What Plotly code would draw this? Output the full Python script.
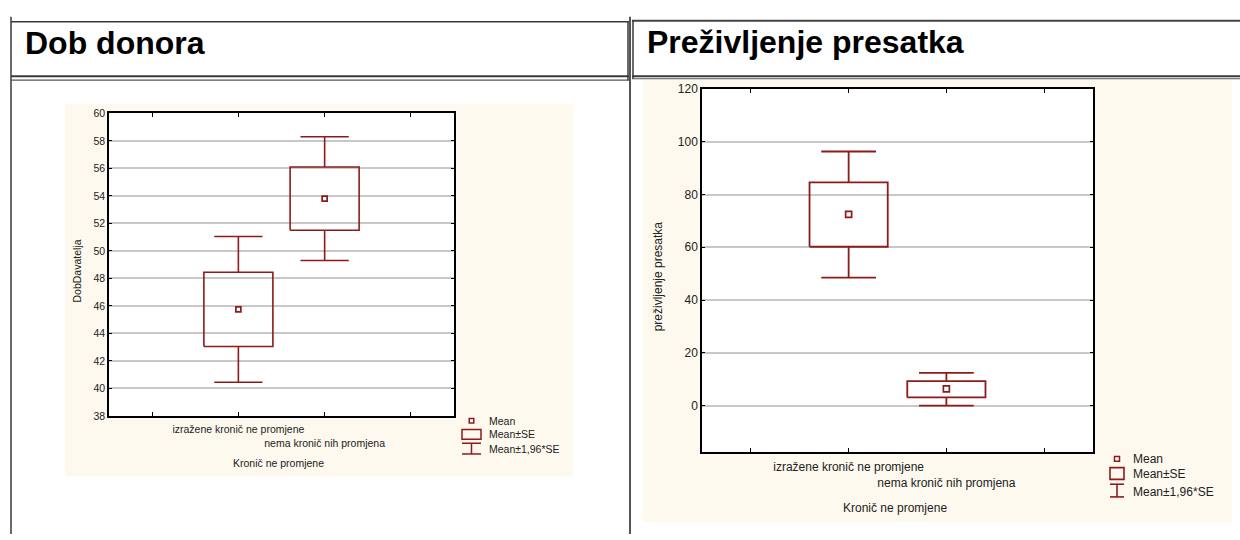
import plotly.graph_objects as go

W, H = 1240, 540

# ---------------- data ----------------
categories = ["izražene kronič ne promjene", "nema kronič nih promjena"]
x_title = "Kronič ne promjene"
panel_titles = ["Dob donora", "Preživljenje presatka"]
y_titles = ["DobDavatelja", "preživljenje presatka"]
legend_labels = ["Mean", "Mean±SE", "Mean±1,96*SE"]

# Dob donora (DobDavatelja)
dob_mean = [45.75, 53.8]
dob_se_lo = [43.05, 51.5]
dob_se_hi = [48.45, 56.1]
dob_ci_lo = [40.45, 49.3]
dob_ci_hi = [51.05, 58.3]
dob_ticks = [38, 40, 42, 44, 46, 48, 50, 52, 54, 56, 58, 60]

# Preživljenje presatka
prez_mean = [72.5, 6.3]
prez_se_lo = [60.2, 3.1]
prez_se_hi = [84.6, 9.3]
prez_ci_lo = [48.5, 0.0]
prez_ci_hi = [96.3, 12.4]
prez_ticks = [0, 20, 40, 60, 80, 100, 120]

# ---------------- style ----------------
RED = "#8E1B1B"
CREAM = "#FDF9EE"
GRID = "#C8C8C8"
FONT = "Arial, Liberation Sans, sans-serif"
BOX_HALF = 0.4
CAP_HALF = 0.28


def px(x):
    return x / W


def py(y):
    return 1 - y / H


def box_traces(mean, se_lo, se_hi, ci_lo, ci_hi, xa, ya, lw, msize):
    bx, by, wx, wy = [], [], [], []
    for i in range(len(mean)):
        c = i + 1
        bx += [c - BOX_HALF, c + BOX_HALF, c + BOX_HALF, c - BOX_HALF, c - BOX_HALF, None]
        by += [se_lo[i], se_lo[i], se_hi[i], se_hi[i], se_lo[i], None]
        wx += [c, c, None, c - CAP_HALF, c + CAP_HALF, None,
               c, c, None, c - CAP_HALF, c + CAP_HALF, None]
        wy += [se_hi[i], ci_hi[i], None, ci_hi[i], ci_hi[i], None,
               se_lo[i], ci_lo[i], None, ci_lo[i], ci_lo[i], None]
    xs = [i + 1 for i in range(len(mean))]
    return [
        go.Scatter(x=bx, y=by, mode="lines", line=dict(color=RED, width=lw),
                   xaxis=xa, yaxis=ya, showlegend=False, hoverinfo="skip"),
        go.Scatter(x=wx, y=wy, mode="lines", line=dict(color=RED, width=lw),
                   xaxis=xa, yaxis=ya, showlegend=False, hoverinfo="skip"),
        go.Scatter(x=xs, y=mean, mode="markers",
                   marker=dict(symbol="square", size=msize, color="white",
                               line=dict(color=RED, width=1.7)),
                   xaxis=xa, yaxis=ya, showlegend=False),
    ]


fig = go.Figure()
for t in box_traces(dob_mean, dob_se_lo, dob_se_hi, dob_ci_lo, dob_ci_hi, "x", "y", 1.6, 5):
    fig.add_trace(t)
for t in box_traces(prez_mean, prez_se_lo, prez_se_hi, prez_ci_lo, prez_ci_hi, "x2", "y2", 1.8, 6):
    fig.add_trace(t)

# plot areas (px)
L = dict(x0=109, x1=454, y0=109, y1=419)
R = dict(x0=702, x1=1093, y0=84, y1=456)

ticktext = [""] + [categories[0], "<br>" + categories[1]] + [""]


def xaxis(domain, fs, standoff):
    return dict(domain=domain, range=[-0.5, 3.5], tickvals=[0, 1, 2, 3], ticktext=ticktext,
                tickangle=0, showgrid=False, zeroline=False, showline=True, mirror="ticks",
                linecolor="black", linewidth=1.5, ticks="inside", ticklen=4,
                ticklabelstandoff=standoff,
                tickcolor="black", tickfont=dict(family=FONT, size=fs, color="#222"),
                fixedrange=True)


def yaxis(domain, rng, tv, fs):
    return dict(domain=domain, range=rng, tickvals=tv, showgrid=True, gridcolor=GRID,
                gridwidth=1.5, zeroline=False, showline=True, mirror="ticks",
                linecolor="black", linewidth=1.5, ticks="inside", ticklen=3,
                tickcolor="black", tickfont=dict(family=FONT, size=fs, color="#222"),
                fixedrange=True)


shapes = []
annotations = []

# cream panels and white plot areas
shapes.append(dict(type="rect", xref="paper", yref="paper", x0=px(65), x1=px(573),
                   y0=py(481), y1=py(99), fillcolor=CREAM, line=dict(width=0), layer="below"))
shapes.append(dict(type="rect", xref="paper", yref="paper", x0=px(643), x1=px(1232),
                   y0=py(528), y1=py(75), fillcolor=CREAM, line=dict(width=0), layer="below"))
for P in (L, R):
    shapes.append(dict(type="rect", xref="paper", yref="paper", x0=px(P["x0"]), x1=px(P["x1"]),
                       y0=py(P["y1"]), y1=py(P["y0"]), fillcolor="white",
                       line=dict(width=0), layer="below"))

# table borders
BC = "#3A3A3A"


def hline(x0, x1, y, w=1.5, c=BC):
    shapes.append(dict(type="line", xref="paper", yref="paper", x0=px(x0), x1=px(x1),
                       y0=py(y), y1=py(y), line=dict(color=c, width=w), layer="above"))


def vline(x, y0, y1, w=1.5, c=BC):
    shapes.append(dict(type="line", xref="paper", yref="paper", x0=px(x), x1=px(x),
                       y0=py(y0), y1=py(y1), line=dict(color=c, width=w), layer="above"))


vline(11, 10, 540)
vline(630, 10, 540, w=2, c="#555555")
# left header box
hline(11, 629, 15)
hline(11, 629, 71, w=2)
hline(11, 629, 75, w=1.2, c="#555555")
vline(628, 15, 75)
# right header box
hline(632, 1240, 14, w=2, c="#444444")
hline(632, 1240, 71, w=2)
hline(632, 1240, 73.5, w=1.2, c="#555555")
vline(633, 14, 73.5)

# header titles
annotations.append(dict(text="<b>" + panel_titles[0] + "</b>", xref="paper", yref="paper",
                        x=px(23), y=py(37), xanchor="left", yanchor="middle", showarrow=False,
                        font=dict(family=FONT, size=32, color="black")))
annotations.append(dict(text="<b>" + panel_titles[1] + "</b>", xref="paper", yref="paper",
                        x=px(645), y=py(36), xanchor="left", yanchor="middle", showarrow=False,
                        font=dict(family=FONT, size=32, color="black")))

# axis titles
annotations.append(dict(text=y_titles[0], xref="paper", yref="paper", x=px(77), y=py(271),
                        textangle=-90, showarrow=False, xanchor="center", yanchor="middle",
                        font=dict(family=FONT, size=10.5, color="#222")))
annotations.append(dict(text=y_titles[1], xref="paper", yref="paper", x=px(658), y=py(276),
                        textangle=-90, showarrow=False, xanchor="center", yanchor="middle",
                        font=dict(family=FONT, size=12, color="#222")))
annotations.append(dict(text=x_title, xref="paper", yref="paper", x=px(278), y=py(467),
                        showarrow=False, xanchor="center", yanchor="middle",
                        font=dict(family=FONT, size=10.5, color="#222")))
annotations.append(dict(text=x_title, xref="paper", yref="paper", x=px(895), y=py(513),
                        showarrow=False, xanchor="center", yanchor="middle",
                        font=dict(family=FONT, size=12, color="#222")))


# legends
def legend(cx, sym_x0, sym_x1, y_mean, box_y0, box_y1, cap_y0, cap_y1, tx, ty, fs, msz, lw):
    shapes.append(dict(type="rect", xref="paper", yref="paper",
                       x0=px(cx - msz / 2), x1=px(cx + msz / 2),
                       y0=py(y_mean + msz / 2), y1=py(y_mean - msz / 2),
                       fillcolor="white", line=dict(color=RED, width=1.5), layer="above"))
    shapes.append(dict(type="rect", xref="paper", yref="paper", x0=px(sym_x0), x1=px(sym_x1),
                       y0=py(box_y1), y1=py(box_y0), line=dict(color=RED, width=lw),
                       layer="above"))
    for yy in (cap_y0, cap_y1):
        shapes.append(dict(type="line", xref="paper", yref="paper", x0=px(sym_x0), x1=px(sym_x1),
                           y0=py(yy), y1=py(yy), line=dict(color=RED, width=lw), layer="above"))
    mid = (sym_x0 + sym_x1) / 2
    shapes.append(dict(type="line", xref="paper", yref="paper", x0=px(mid), x1=px(mid),
                       y0=py(cap_y0), y1=py(cap_y1), line=dict(color=RED, width=lw),
                       layer="above"))
    for lab, yy in zip(legend_labels, ty):
        annotations.append(dict(text=lab, xref="paper", yref="paper", x=px(tx), y=py(yy),
                                xanchor="left", yanchor="middle", showarrow=False,
                                font=dict(family=FONT, size=fs, color="#222")))


legend(471.5, 462, 481, 424, 433, 443, 447, 458, 487, [424, 438, 453], 10.5, 4.5, 1.5)
legend(1117, 1110, 1124, 463, 472, 484, 489, 502, 1131, [463, 479, 497], 12, 5, 1.6)

fig.update_layout(
    width=W, height=H, autosize=False,
    margin=dict(l=0, r=0, t=0, b=0),
    paper_bgcolor="white", plot_bgcolor="white",
    showlegend=False,
    xaxis=xaxis([px(L["x0"]), px(L["x1"])], 10.5, 3),
    yaxis=yaxis([py(L["y1"]), py(L["y0"])], [38, 60], dob_ticks, 10.5),
    xaxis2=xaxis([px(R["x0"]), px(R["x1"])], 12, 3),
    yaxis2=yaxis([py(R["y1"]), py(R["y0"])], [-17.6, 120], prez_ticks, 12),
    shapes=shapes,
    annotations=annotations,
)
fig.update_layout(xaxis2=dict(anchor="y2"), yaxis2=dict(anchor="x2"))

fig.write_html("out.html", config={"displayModeBar": False},
               post_script="document.body.style.margin='0px';document.body.style.overflow='hidden';")
